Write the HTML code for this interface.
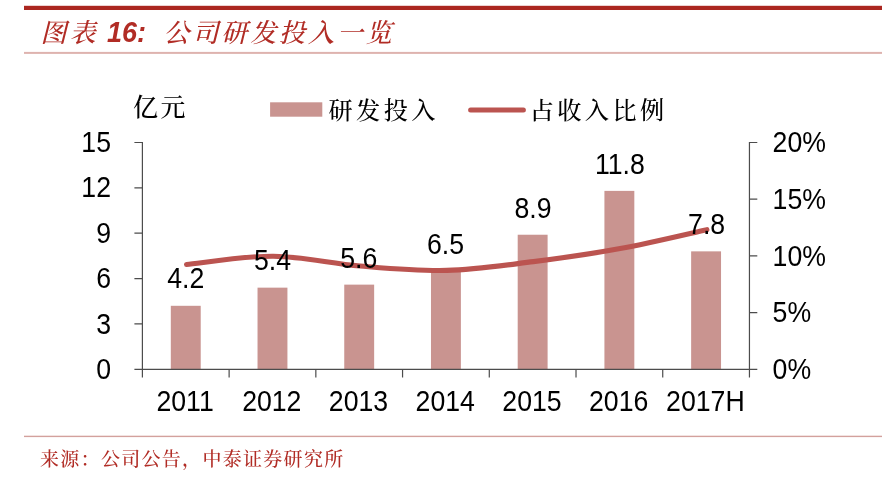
<!DOCTYPE html>
<html lang="zh-CN">
<head>
<meta charset="utf-8">
<title>图表 16: 公司研发投入一览</title>
<style>
html,body{margin:0;padding:0;background:#fff;}
body{width:896px;height:482px;position:relative;overflow:hidden;font-family:"Liberation Sans","Noto Serif CJK SC",sans-serif;}
.title{will-change:transform;position:absolute;left:40px;top:15px;height:36px;line-height:36px;font-size:27px;color:#b12c25;font-style:italic;white-space:nowrap;font-family:"Liberation Sans","Noto Serif CJK SC",serif;}
.title span,.title b{position:absolute;top:0;}
.title .t1{left:0.5px;top:0px;font-size:26px;letter-spacing:3px;font-weight:500;}
.title b{font-weight:bold;left:67px;font-size:27px;transform:scaleY(1.09);transform-origin:0 27.5px;}
.title .t3{left:123.5px;top:0px;font-size:26px;letter-spacing:2.9px;font-weight:500;}
.src{will-change:transform;position:absolute;left:40px;top:447px;height:26px;line-height:26px;font-size:19px;letter-spacing:1.3px;font-weight:500;color:#b12c25;white-space:nowrap;font-family:"Liberation Serif","Noto Serif CJK SC",serif;}
svg{position:absolute;left:0;top:0;will-change:transform;}
svg text{font-family:"Liberation Sans","Noto Serif CJK SC",sans-serif;font-size:26.67px;fill:#000;}
svg text.cj{font-family:"Noto Serif CJK SC","Liberation Serif",serif;font-size:24.2px;letter-spacing:3.4px;font-weight:500;}
svg text.cj.s{font-size:25px;letter-spacing:2.4px;}
</style>
</head>
<body>
<div class="title"><span class="t1">图表</span><b class="t2">16:</b><span class="t3">公司研发投入一览</span></div>
<svg width="896" height="482" viewBox="0 0 896 482">
  <rect x="24" y="5.8" width="858" height="4.2" fill="#ab2720"/>
  <rect x="24" y="51.9" width="858" height="2" fill="#deb3af"/>
  <rect x="24" y="435.7" width="858" height="1.4" fill="#d3a19d"/>
  <g fill="#c99490">
    <rect x="170.81" y="305.80" width="29.9" height="63.50"/>
    <rect x="257.53" y="287.65" width="29.9" height="81.65"/>
    <rect x="344.25" y="284.63" width="29.9" height="84.67"/>
    <rect x="430.98" y="271.02" width="29.9" height="98.28"/>
    <rect x="517.70" y="234.73" width="29.9" height="134.57"/>
    <rect x="604.42" y="190.88" width="29.9" height="178.42"/>
    <rect x="691.14" y="251.36" width="29.9" height="117.94"/>
  </g>
  <g stroke="#4c4c4c" stroke-width="1.2" fill="none">
    <path d="M142.40 141.90V377.4 M134.4 142.50H142.40 M134.4 187.86H142.40 M134.4 233.22H142.40 M134.4 278.58H142.40 M134.4 323.94H142.40 M134.4 369.30H749.45"/>
    <path d="M229.12 369.30V377.4 M315.84 369.30V377.4 M402.56 369.30V377.4 M489.29 369.30V377.4 M576.01 369.30V377.4 M662.73 369.30V377.4"/>
    <path d="M749.45 377.4V141.90 M749.45 142.50H757.3 M749.45 199.20H757.3 M749.45 255.90H757.3 M749.45 312.60H757.3 M749.45 369.30H757.3"/>
  </g>
  <path d="M186.56 264.50 C201.01 263.12 244.38 255.95 273.28 256.20 C302.19 256.45 331.10 263.63 360.00 266.00 C388.91 268.37 417.82 271.13 446.73 270.40 C475.63 269.67 504.54 265.23 533.45 261.60 C562.35 257.97 591.26 253.92 620.17 248.60 C649.07 243.28 692.44 232.85 706.89 229.70" fill="none" stroke="#bb5450" stroke-width="5.1" stroke-linecap="round" stroke-linejoin="round"/>
  <rect x="270.1" y="102.3" width="52.2" height="14.4" fill="#c99490"/>
  <path d="M470.6 110.1H523.4" stroke="#bb5450" stroke-width="5" stroke-linecap="round"/>
  <text class="cj s" x="133" y="116">亿元</text>
  <text class="cj" x="328.5" y="118.6">研发投入</text>
  <text class="cj" x="529.7" y="118.6">占收入比例</text>
  <g text-anchor="end">
    <text transform="matrix(1 0 0 1.080 111.00 152.10)">15</text>
    <text transform="matrix(1 0 0 1.080 111.00 197.46)">12</text>
    <text transform="matrix(1 0 0 1.080 111.00 242.82)">9</text>
    <text transform="matrix(1 0 0 1.080 111.00 288.18)">6</text>
    <text transform="matrix(1 0 0 1.080 111.00 333.54)">3</text>
    <text transform="matrix(1 0 0 1.080 111.00 378.90)">0</text>
  </g>
  <g>
    <text transform="matrix(1 0 0 1.080 772.60 152.10)">20%</text>
    <text transform="matrix(1 0 0 1.080 772.60 208.80)">15%</text>
    <text transform="matrix(1 0 0 1.080 772.60 265.50)">10%</text>
    <text transform="matrix(1 0 0 1.080 772.60 322.20)">5%</text>
    <text transform="matrix(1 0 0 1.080 772.60 378.90)">0%</text>
  </g>
  <g text-anchor="middle">
    <text transform="matrix(1 0 0 1.080 185.06 411.00)">2011</text>
    <text transform="matrix(1 0 0 1.080 271.78 411.00)">2012</text>
    <text transform="matrix(1 0 0 1.080 358.50 411.00)">2013</text>
    <text transform="matrix(1 0 0 1.080 445.23 411.00)">2014</text>
    <text transform="matrix(1 0 0 1.080 531.95 411.00)">2015</text>
    <text transform="matrix(1 0 0 1.080 618.67 411.00)">2016</text>
    <text transform="matrix(1 0 0 1.080 705.39 411.00)">2017H</text>
  </g>
  <g text-anchor="middle">
    <text transform="matrix(1 0 0 1.080 185.76 288.20)">4.2</text>
    <text transform="matrix(1 0 0 1.080 272.48 270.35)">5.4</text>
    <text transform="matrix(1 0 0 1.080 358.70 268.33)">5.6</text>
    <text transform="matrix(1 0 0 1.080 445.53 253.72)">6.5</text>
    <text transform="matrix(1 0 0 1.080 532.95 217.93)">8.9</text>
    <text transform="matrix(1 0 0 1.080 619.87 173.88)">11.8</text>
    <text transform="matrix(1 0 0 1.080 706.59 233.96)">7.8</text>
  </g>
</svg>
<div class="src">来源：公司公告，中泰证券研究所</div>
</body>
</html>
